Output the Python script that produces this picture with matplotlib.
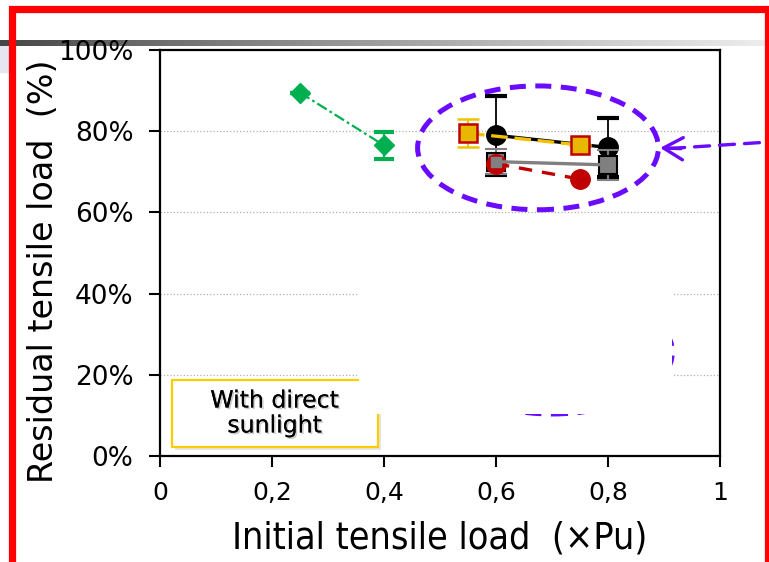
import matplotlib
matplotlib.use("Agg")
import matplotlib.pyplot as plt
from matplotlib import ticker
from matplotlib import patches
from matplotlib import patheffects as pe
import numpy as np


plt.rcParams['font.family'] = ['DejaVu Sans']

# data (x = initial load / Pu, y = residual load fraction)
green_x = [0.25, 0.4]
green_y = [0.895, 0.765]
green_err = [0.0, 0.033]

black_x = [0.6, 0.8]
black_y = [0.79, 0.76]
black_err = [0.097, 0.073]

gray_x = [0.6, 0.8]
gray_y = [0.725, 0.717]
gray_err = [0.03, 0.037]

red_x = [0.6, 0.75]
red_y = [0.72, 0.682]

gold_x = [0.55, 0.75]
gold_y = [0.795, 0.766]
gold_err = [0.035, 0.0]

x_ticks = [0, 0.2, 0.4, 0.6, 0.8, 1.0]
x_labels = ['0', '0,2', '0,4', '0,6', '0,8', '1']
y_ticks = [0, 0.2, 0.4, 0.6, 0.8, 1.0]

PURPLE = '#6A0AFF'
W, H = 769, 562

fig = plt.figure(figsize=(W / 100, H / 100), dpi=100)

# gray gradient bar at the top
bar = fig.add_axes([0, 1 - 46 / H, 765 / W, 6 / H], zorder=0)
bar.imshow(np.linspace(0.2, 0.91, 256)[None, :] ** 0.8, cmap='gray', vmin=0, vmax=1,
           aspect='auto', extent=(0, 1, 0, 1))
bar.axis('off')
fig.add_artist(patches.Rectangle((0, 1 - 72 / H), 8 / W, 26 / H,
                                 transform=fig.transFigure, color='#e6e6f2', zorder=0))

ax = fig.add_axes([160 / W, 1 - 456 / H, 560 / W, 406 / H], zorder=1)
ax.set_xlim(0, 1)
ax.set_ylim(0, 1)
ax.set_xticks(x_ticks)
ax.set_xticklabels(x_labels)
ax.set_yticks(y_ticks)
ax.yaxis.set_major_formatter(ticker.FuncFormatter(lambda v, pos: '%d%%' % round(v * 100)))
ax.tick_params(axis='y', direction='out', length=8, width=1.5, labelsize=19, pad=11)
ax.tick_params(axis='x', direction='out', length=8, width=1.5, labelsize=18, pad=10)
for s in ax.spines.values():
    s.set_linewidth(1.6)
ax.grid(axis='y', color='#b0b0b0', linestyle=':', linewidth=0.9)
ax.set_axisbelow(True)

ax.set_xlabel('Initial tensile load  (\u00d7Pu)', fontsize=27, fontstretch='condensed')
ax.xaxis.set_label_coords(0.5, -0.16)
ax.set_ylabel('Residual tensile load  (%)', fontsize=24)
ax.yaxis.set_label_coords(-0.178, 0.455)

# green series
ax.errorbar(green_x, green_y, yerr=green_err, color='#00B050', lw=1.6,
            linestyle=(0, (5, 1.5, 1.2, 1.5)), marker='D', ms=10,
            elinewidth=1.5, capsize=7, capthick=3, zorder=3)

# black series
ax.errorbar(black_x, black_y, yerr=black_err, color='black', lw=2.4, marker='o',
            ms=14, elinewidth=1.3, capsize=8, capthick=3, zorder=3)

# gold series
ax.errorbar(gold_x, gold_y, yerr=gold_err, color='#F2C200', lw=2.4,
            linestyle=(0, (5, 2)), marker='s', ms=13, mfc='#E8B800',
            mec='#C00000', mew=1.8, elinewidth=1.5, capsize=8, capthick=3,
            ecolor='#F2C200', zorder=4)

# gray squares (below red), red circles, then gray line on top
ax.errorbar(gray_x, gray_y, yerr=gray_err, color='#808080', lw=0, marker='s',
            ms=13.5, mec='black', mew=1.5, elinewidth=1.5, capsize=8,
            capthick=3, ecolor='#808080', zorder=4.5)
ax.plot(red_x, red_y, color='#C00000', lw=2.4, linestyle=(0, (4, 3)),
        marker='o', ms=14, zorder=5)
ax.plot(gray_x, gray_y, color='#808080', lw=2.4, marker='s', ms=7, zorder=6)

# dashed ellipses
ell_w, ell_h = 0.43, 0.305
ax.add_patch(patches.Ellipse((0.675, 0.759), ell_w, ell_h, fill=False,
                             edgecolor=PURPLE, lw=3.6, linestyle=(0, (3.2, 1.9)),
                             zorder=7))
ax.add_patch(patches.Ellipse((0.70, 0.256), ell_w, ell_h, fill=False,
                             edgecolor=PURPLE, lw=3.6, linestyle=(0, (3.2, 1.9)),
                             zorder=7))

# arrow coming from the right
ax.annotate('', xy=(0.905, 0.757), xytext=(1.02, 1 - 141 / H),
            textcoords='figure fraction',
            arrowprops=dict(arrowstyle='-', color=PURPLE, lw=2.4,
                            linestyle=(0, (4.5, 3)), shrinkA=0, shrinkB=0),
            annotation_clip=False, zorder=8)
ax.annotate('', xy=(0.893, 0.759), xytext=(0.93, 0.757),
            arrowprops=dict(arrowstyle='->,head_length=1.4,head_width=0.8',
                            color=PURPLE, lw=2.4, shrinkA=0, shrinkB=0),
            annotation_clip=False, zorder=8)

# text box
ax.add_patch(patches.Rectangle((0.026, 0.015), 0.368, 0.165, transform=ax.transAxes,
                               facecolor='#000000', alpha=0.1, lw=0, zorder=7.5))
ax.add_patch(patches.Rectangle((0.021, 0.022), 0.368, 0.165, transform=ax.transAxes,
                               facecolor='white', edgecolor='#FFCC00', lw=1.6, zorder=8))
ax.text(0.205, 0.106, 'With direct\nsunlight', transform=ax.transAxes, fontsize=17,
        ha='center', va='center', linespacing=1.05, zorder=9,
        path_effects=[pe.withSimplePatchShadow(offset=(1.2, -1.2), alpha=0.2),
                      pe.Normal()])

# white patch that hides part of the plot
ax.add_patch(patches.Rectangle((0.355, 0.103), 0.559, 0.318, transform=ax.transAxes,
                               facecolor='white', lw=0, zorder=10))

# red frame
fig.add_artist(patches.Rectangle((11.5 / W, -0.1), 756.5 / W, 1.1 - 8.5 / H,
                                 transform=fig.transFigure, fill=False,
                                 edgecolor='#FF0000', lw=5.2, zorder=20))

fig.savefig('out.png', dpi=100)
